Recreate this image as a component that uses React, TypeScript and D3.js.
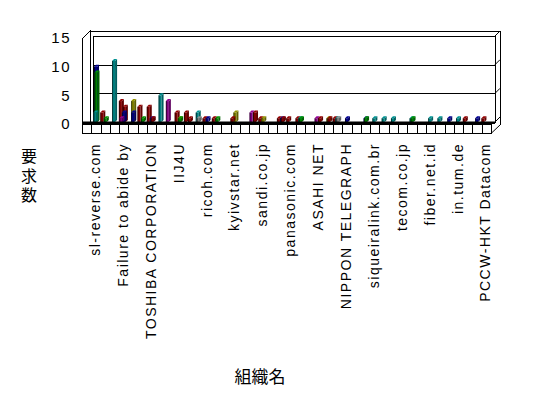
import React from "react";
import * as d3 from "d3";

// ---- data ----
const categoryIndex = d3.range(44);
const tickLabels = [
  "sl-reverse.com",
  "Failure to abide by",
  "TOSHIBA CORPORATION",
  "IIJ4U",
  "ricoh.com",
  "kyivstar.net",
  "sandi.co.jp",
  "panasonic.com",
  "ASAHI NET",
  "NIPPON TELEGRAPH",
  "siqueiralink.com.br",
  "tecom.co.jp",
  "fiber.net.id",
  "in.tum.de",
  "PCCW-HKT Datacom",
];
const yTicks = [0, 5, 10, 15];
const yTitle = "要求数";
const xTitle = "組織名";

const tealValues = [2,0,11,0,0,0,0,5,0,0, 0,2,0,0,0,0,0,0,0,0, 0,0,1,0,0,0,1,0,0,0, 1,1,1,0,1,0,1,1,0,1, 0,0,0,0];
const navyValues = [10,0,0,2,2,0,1,0,0,0, 0,0,1,0,0,0,0,0,0,0, 1,0,0,0,0,0,0,1,0,1, 0,0,0,0,0,0,0,0,1,0, 0,1,0,0];
const darkRedValues = [0,2,0,4,0,3,3,0,0,2, 2,0,1,1,0,1,0,0,1,0, 1,1,1,0,0,0,1,0,0,0, 0,0,0,0,0,0,0,0,0,0, 1,0,1,0];
const purpleValues = [0,0,0,1,0,0,0,0,4,0, 0,0,0,0,0,0,0,2,0,0, 0,0,0,0,1,0,0,0,0,0, 0,0,0,0,0,0,0,0,0,0, 0,0,0,0];
const oliveValues = [0,0,0,0,4,0,0,0,0,1, 0,0,0,0,0,2,0,0,1,0, 0,0,0,0,0,1,0,0,0,0, 0,0,0,0,0,0,0,0,0,0, 0,0,0,0];
const greenValues = [9,1,0,0,0,1,0,0,0,1, 0,0,0,1,0,0,0,0,0,0, 0,0,1,0,0,0,0,0,0,1, 0,0,0,0,1,0,0,0,0,0, 0,0,0,0];
const grayValues = [0,0,0,0,0,0,0,0,0,0, 0,1,0,0,0,0,0,0,0,0, 0,0,0,0,0,0,1,0,0,0, 0,0,0,0,0,0,0,0,0,0, 0,0,0,0];
const darkRed2Values = [0,0,0,3,0,0,1,0,0,0, 1,0,0,0,0,0,0,2,0,0, 1,0,0,0,1,1,0,0,0,0, 0,0,0,0,0,0,0,0,0,0, 0,0,0,0];

const series = [
  { name: "s1", color: "#800000", values: darkRedValues, slot: 0 },
  { name: "s2", color: "#800080", values: purpleValues, slot: 0.5 },
  { name: "s3", color: "#008080", values: tealValues, slot: 2.5 },
  { name: "s4", color: "#000080", values: navyValues, slot: 3 },
  { name: "s5", color: "#808000", values: oliveValues, slot: 3 },
  { name: "s6", color: "#008000", values: greenValues, slot: 3.5 },
  { name: "s7", color: "#808080", values: grayValues, slot: 3.5 },
  { name: "s8", color: "#800000", values: darkRed2Values, slot: 4 },
];

export default function App() {
  const W = 548, H = 398;
  const x = d3.scaleBand<number>().domain(categoryIndex).range([82, 491]).paddingInner(0);
  const y = d3.scaleLinear().domain([0, 15]).range([122, 36]);
  const bw = x.bandwidth();
  const barW = 3, dd = 2;
  const wallL = 93, wallR = 495, th = 5;

  const bars: any[] = [];
  categoryIndex.forEach((k) => {
    const list = series
      .map((s) => ({ s, v: s.values[k] }))
      .filter((d) => d.v > 0)
      .sort((a, b) => b.v - a.v);
    list.forEach(({ s, v }) => bars.push({ k, s, v }));
  });

  const font = "'Liberation Sans', Arial, sans-serif";
  const cjk = "'Noto Sans CJK JP', sans-serif";

  return (
    <svg width={W} height={H} style={{ position: "absolute", left: 0, top: 0, background: "#fff" }}>
      <rect x={0} y={0} width={W} height={H} fill="#fff" />
      {/* left wall */}
      <polygon points={`82,39 90,31 90,${y(0)} 82,130`} fill="#fff" stroke="#000" strokeWidth={1} shapeRendering="crispEdges" />
      {/* back wall outer (thickness) */}
      <polyline points={`90,31 ${wallR + th},31 ${wallR + th},125`} fill="none" stroke="#000" strokeWidth={1} shapeRendering="crispEdges" />
      <rect x={wallL} y={y(15)} width={wallR - wallL} height={y(0) - y(15)} fill="#fff" stroke="#000" strokeWidth={1} shapeRendering="crispEdges" />
      <line x1={90} x2={90} y1={31} y2={y(0)} stroke="#000" shapeRendering="crispEdges" />
      {yTicks.map((t) => (
        <g key={t}>
          <line x1={wallL} x2={wallR} y1={Math.round(y(t)) + 0.5} y2={Math.round(y(t)) + 0.5} stroke="#000" strokeWidth={1} />
          <line x1={wallR} x2={wallR + th} y1={y(t)} y2={y(t) - th} stroke="#000" strokeWidth={1} />
        </g>
      ))}
      {/* bars */}
      {bars.map((b, i) => {
        const x0 = (x(b.k) as number) + 9 + b.s.slot;
        const yt = y(b.v);
        const base = y(0);
        const c = d3.color(b.s.color)!;
        const side = c.darker(0.8).toString();
        const top = c.brighter(0.4).toString();
        return (
          <g key={i}>
            <rect x={x0} y={yt + dd} width={barW} height={base - yt - dd} fill={b.s.color} />
            <polygon points={`${x0 + barW},${yt + dd} ${x0 + barW + dd},${yt} ${x0 + barW + dd},${base - dd} ${x0 + barW},${base}`} fill={side} />
            <polygon points={`${x0},${yt + dd} ${x0 + dd},${yt} ${x0 + barW + dd},${yt} ${x0 + barW},${yt + dd}`} fill={top} />
            <line x1={x0 + 0.5} x2={x0 + 0.5} y1={yt + dd} y2={base} stroke="#000" strokeWidth={0.6} />
          </g>
        );
      })}
      {/* floor top band */}
      <rect x={82} y={121.5} width={wallR - 82} height={2.5} fill="#000" />
      {/* floor front face with ticks */}
      <rect x={82.5} y={124.5} width={491 - 82} height={9} fill="#fff" stroke="#000" strokeWidth={1} />
      {categoryIndex.map((k) => (
        <line key={k} x1={Math.round(x(k) as number) + 0.5} x2={Math.round(x(k) as number) + 0.5} y1={124} y2={133} stroke="#000" strokeWidth={1} />
      ))}
      <line x1={491} y1={133.5} x2={wallR + th} y2={125} stroke="#000" />
      <line x1={82.5} y1={39} x2={82.5} y2={134} stroke="#000" />
      {/* y tick labels */}
      {yTicks.map((t) => (
        <text key={t} x={71} y={y(t) + 2} dy="0.35em" textAnchor="end" fontFamily={font} fontSize={15} letterSpacing={1.5}>
          {t}
        </text>
      ))}
      {/* category labels */}
      {tickLabels.map((lab, i) => {
        const cx = (x(i * 3) as number) + bw / 2 + 8.5;
        return (
          <text key={lab} transform={`translate(${cx},143) rotate(-90)`} dy="0.35em" textAnchor="end" fontFamily={font} fontSize={14} letterSpacing={1.5}>
            {lab}
          </text>
        );
      })}
      {/* axis titles */}
      <text x={29} y={148} fontFamily={cjk} fontSize={16} letterSpacing={3.5} style={{ writingMode: "vertical-rl" } as any}>
        {yTitle}
      </text>
      <text x={260} y={377} dy="0.35em" textAnchor="middle" fontFamily={cjk} fontSize={17}>
        {xTitle}
      </text>
    </svg>
  );
}
